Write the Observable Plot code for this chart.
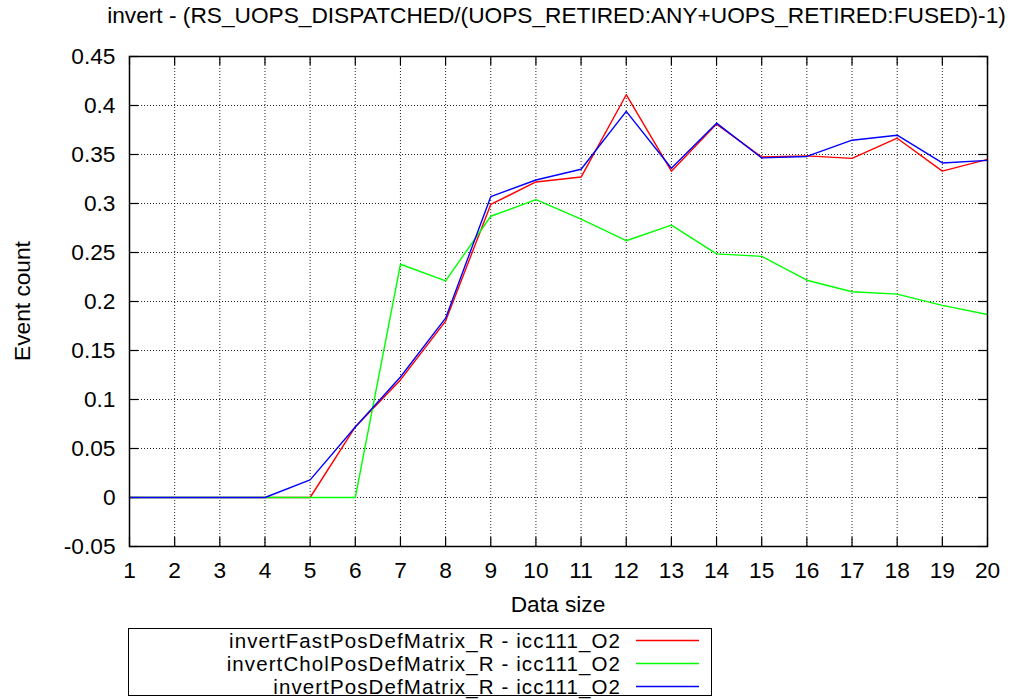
<!DOCTYPE html>
<html>
<head>
<meta charset="utf-8">
<script src="https://cdn.jsdelivr.net/npm/d3@7"></script>
<script src="https://cdn.jsdelivr.net/npm/@observablehq/plot@0.6"></script>
<style>
  html, body { margin: 0; padding: 0; background: #fff; }
  #wrap { position: relative; width: 1018px; height: 699px; font-family: "Liberation Sans", Arial, Helvetica, sans-serif; font-size: 22.7px; color: #000; overflow: hidden; }
  #chart { position: absolute; left: 0; top: 0; }
  .abs { position: absolute; white-space: nowrap; line-height: normal; }
  #title { left: 556.5px; top: 2px; transform: translateX(-50%); }
  #xlabel { left: 558px; top: 591px; transform: translateX(-50%); }
  #ylabel { left: 22px; top: 301px; transform: translate(-50%, -50%) rotate(-90deg); }
  #legend { position: absolute; left: 128px; top: 628px; width: 584px; height: 68px; border: 1.5px solid #000; box-sizing: border-box; }
  .lrow { position: absolute; left: 128px; height: 23px; line-height: 23px; width: 600px; }
  .ltext { position: absolute; left: 0; width: 493px; text-align: right; white-space: nowrap; font-size: 20.5px; letter-spacing: 1.1px; }
  .lline { position: absolute; left: 508px; top: 10px; }
</style>
</head>
<body>
<div id="wrap">
  <div id="chart"></div>
  <div id="title" class="abs"></div>
  <div id="xlabel" class="abs"></div>
  <div id="ylabel" class="abs"></div>
  <div id="legend"></div>
</div>
<script>
// ---- data ----
const titleText = "invert - (RS_UOPS_DISPATCHED/(UOPS_RETIRED:ANY+UOPS_RETIRED:FUSED)-1)";
const xLabel = "Data size";
const yLabel = "Event count";
const dataSizes = [1, 2, 3, 4, 5, 6, 7, 8, 9, 10, 11, 12, 13, 14, 15, 16, 17, 18, 19, 20];
const seriesNames = [
  "invertFastPosDefMatrix_R - icc111_O2",
  "invertCholPosDefMatrix_R - icc111_O2",
  "invertPosDefMatrix_R - icc111_O2"
];
const seriesColors = ["#ff0000", "#00ff00", "#0000ff"];
const fastValues = [0, 0, 0, 0, 0, 0.072, 0.120, 0.180, 0.299, 0.322, 0.327, 0.411, 0.333, 0.381, 0.3475, 0.3486, 0.346, 0.3666, 0.333, 0.345];
const cholValues = [0, 0, 0, 0, 0, 0, 0.238, 0.221, 0.287, 0.304, 0.284, 0.262, 0.278, 0.2486, 0.246, 0.2217, 0.210, 0.2075, 0.196, 0.1867];
const posDefValues = [0, 0, 0, 0, 0.018, 0.072, 0.123, 0.183, 0.307, 0.324, 0.335, 0.394, 0.336, 0.382, 0.3465, 0.348, 0.3646, 0.3697, 0.3414, 0.344];
const xTicks = [1, 2, 3, 4, 5, 6, 7, 8, 9, 10, 11, 12, 13, 14, 15, 16, 17, 18, 19, 20];
const yTicks = [-0.05, 0, 0.05, 0.1, 0.15, 0.2, 0.25, 0.3, 0.35, 0.4, 0.45];
const yTickLabels = ["-0.05", "0", "0.05", "0.1", "0.15", "0.2", "0.25", "0.3", "0.35", "0.4", "0.45"];

// ---- layout ----
const W = 1018, H = 699;
const mL = 129, mR = 31, mT = 56, mB = 153;
const innerW = W - mL - mR, innerH = H - mT - mB;
const tickLen = 9;
const font = "22.7px";

const allSeries = [fastValues, cholValues, posDefValues];
const rows = allSeries.flatMap((vals, k) => vals.map((v, i) => ({x: dataSizes[i], y: v, name: seriesNames[k]})));

const lineMarks = seriesNames.map((name, k) =>
  Plot.line(rows.filter(d => d.name === name), {x: "x", y: "y", stroke: seriesColors[k], strokeWidth: 1.4})
);

const chart = Plot.plot({
  width: W, height: H,
  marginLeft: mL, marginRight: mR, marginTop: mT, marginBottom: mB,
  style: {fontFamily: '"Liberation Sans", Arial, Helvetica, sans-serif', fontSize: font, color: "#000", background: "transparent"},
  x: {domain: [1, 20]},
  y: {domain: [-0.05, 0.45]},
  marks: [
    Plot.gridX(xTicks.slice(1, -1), {stroke: "#000", strokeOpacity: 0.85, strokeWidth: 1, strokeDasharray: "1,2"}),
    Plot.gridY(yTicks.slice(1, -1), {stroke: "#000", strokeOpacity: 0.85, strokeWidth: 1, strokeDasharray: "1,2"}),
    // inward ticks, all four sides
    Plot.tickX(xTicks, {x: d => d, insetTop: innerH - tickLen, stroke: "#000", strokeWidth: 1.2}),
    Plot.tickX(xTicks, {x: d => d, insetBottom: innerH - tickLen, stroke: "#000", strokeWidth: 1.2}),
    Plot.tickY(yTicks, {y: d => d, insetRight: innerW - tickLen, stroke: "#000", strokeWidth: 1.2}),
    Plot.tickY(yTicks, {y: d => d, insetLeft: innerW - tickLen, stroke: "#000", strokeWidth: 1.2}),
    ...lineMarks,
    Plot.frame({stroke: "#000", strokeWidth: 1.5}),
    Plot.axisX(xTicks, {anchor: "bottom", tickSize: 0, tickPadding: 15, fontSize: font, tickFormat: d => String(d), label: null}),
    Plot.axisY(yTicks, {anchor: "left", tickSize: 0, tickPadding: 14, fontSize: font, tickFormat: (d, i) => yTickLabels[i], label: null})
  ]
});
document.getElementById("chart").appendChild(chart);

document.getElementById("title").textContent = titleText;
document.getElementById("xlabel").textContent = xLabel;
document.getElementById("ylabel").textContent = yLabel;

// legend (HTML + small SVG swatches)
const wrap = document.getElementById("wrap");
const rowCenters = [640, 663, 686];
const svgNS = "http://www.w3.org/2000/svg";
seriesNames.forEach((name, k) => {
  const row = document.createElement("div");
  row.className = "lrow";
  row.style.top = (rowCenters[k] - 11.5) + "px";
  const t = document.createElement("div");
  t.className = "ltext";
  t.textContent = name;
  const s = document.createElementNS(svgNS, "svg");
  s.setAttribute("class", "lline");
  s.setAttribute("width", "64");
  s.setAttribute("height", "3");
  const ln = document.createElementNS(svgNS, "line");
  ln.setAttribute("x1", "0"); ln.setAttribute("x2", "63");
  ln.setAttribute("y1", "1.5"); ln.setAttribute("y2", "1.5");
  ln.setAttribute("stroke", seriesColors[k]);
  ln.setAttribute("stroke-width", "1.5");
  s.appendChild(ln);
  row.appendChild(t);
  row.appendChild(s);
  wrap.appendChild(row);
});
</script>
</body>
</html>
